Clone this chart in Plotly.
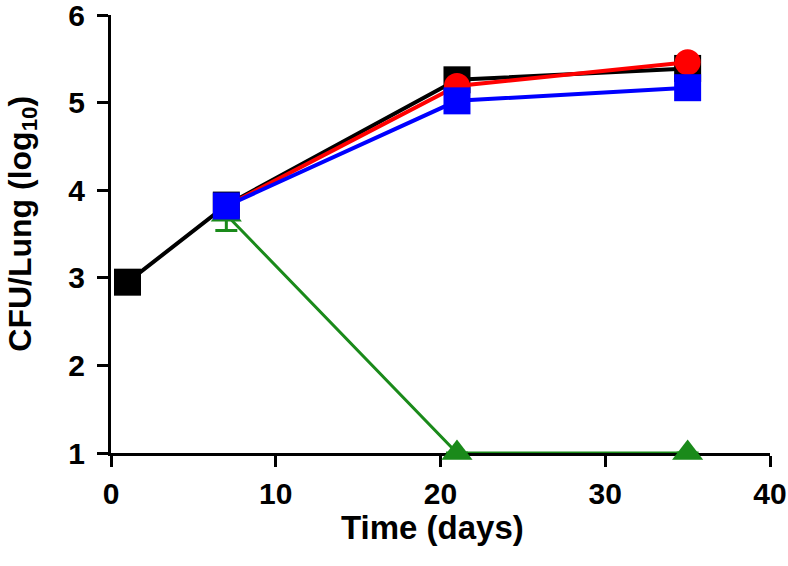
import plotly.graph_objects as go

days_black = [1, 7, 21, 35]
cfu_black = [2.95, 3.83, 5.26, 5.39]

days_red = [7, 21, 35]
cfu_red = [3.82, 5.19, 5.46]

days_blue = [7, 21, 35]
cfu_blue = [3.82, 5.02, 5.17]

days_green = [7, 21, 35]
cfu_green = [3.72, 1.0, 1.0]
err_green = [0.18, 0, 0]

x_ticks = [0, 10, 20, 30, 40]
y_ticks = [1, 2, 3, 4, 5, 6]

x_title = "<b>Time (days)</b>"
y_title = "<b>CFU/Lung (log<sub>10</sub>)</b>"

GREEN = "#1a8a1a"

fig = go.Figure()
fig.add_trace(go.Scatter(x=days_black, y=cfu_black, mode="lines+markers",
                         line=dict(color="black", width=4),
                         marker=dict(symbol="square", size=27, color="black"),
                         cliponaxis=False, showlegend=False))
fig.add_trace(go.Scatter(x=days_green, y=cfu_green, mode="lines+markers",
                         line=dict(color=GREEN, width=3),
                         marker=dict(symbol="triangle-up", size=27, color=GREEN),
                         error_y=dict(type="data", array=err_green, color=GREEN, thickness=3, width=11),
                         cliponaxis=False, showlegend=False))
fig.add_trace(go.Scatter(x=days_red, y=cfu_red, mode="lines+markers",
                         line=dict(color="#ff0000", width=4),
                         marker=dict(symbol="circle", size=26, color="#ff0000"),
                         cliponaxis=False, showlegend=False))
fig.add_trace(go.Scatter(x=days_blue, y=cfu_blue, mode="lines+markers",
                         line=dict(color="#0000ff", width=4),
                         marker=dict(symbol="square", size=27, color="#0000ff"),
                         cliponaxis=False, showlegend=False))

FAM = "Liberation Sans, Arial, Helvetica, sans-serif"
fig.update_layout(
    width=788, height=566,
    margin=dict(l=111, r=18, t=15, b=113),
    plot_bgcolor="white", paper_bgcolor="white",
    font=dict(family=FAM, color="black"),
    annotations=[
        dict(text=x_title, xref="paper", yref="paper", x=0.4879, y=-0.170,
             xanchor="center", yanchor="middle", showarrow=False,
             font=dict(family=FAM, size=33, color="black")),
        dict(text=y_title, xref="paper", yref="paper", x=-0.1355, y=0.5228,
             xanchor="center", yanchor="middle", showarrow=False, textangle=-90,
             font=dict(family=FAM, size=32, color="black")),
    ],
)
fig.update_xaxes(range=[0, 40], tickvals=x_ticks, showgrid=False, zeroline=False,
                 showline=True, linecolor="black", linewidth=3, layer="below traces",
                 ticks="outside", ticklen=11, tickwidth=3, tickcolor="black",
                 automargin=False, ticklabelstandoff=1, ticklabeloverflow="allow",
                 tickfont=dict(family=FAM, size=30, weight="bold", color="black"))
fig.update_yaxes(range=[1, 6], tickvals=y_ticks, showgrid=False, zeroline=False,
                 showline=True, linecolor="black", linewidth=3, layer="below traces",
                 ticks="outside", ticklen=11, tickwidth=3, tickcolor="black",
                 automargin=False, ticklabelstandoff=6, ticklabeloverflow="allow",
                 tickfont=dict(family=FAM, size=30, weight="bold", color="black"))

fig.write_html("out.html", config={"displayModeBar": False},
               post_script="document.body.style.margin='0';")
